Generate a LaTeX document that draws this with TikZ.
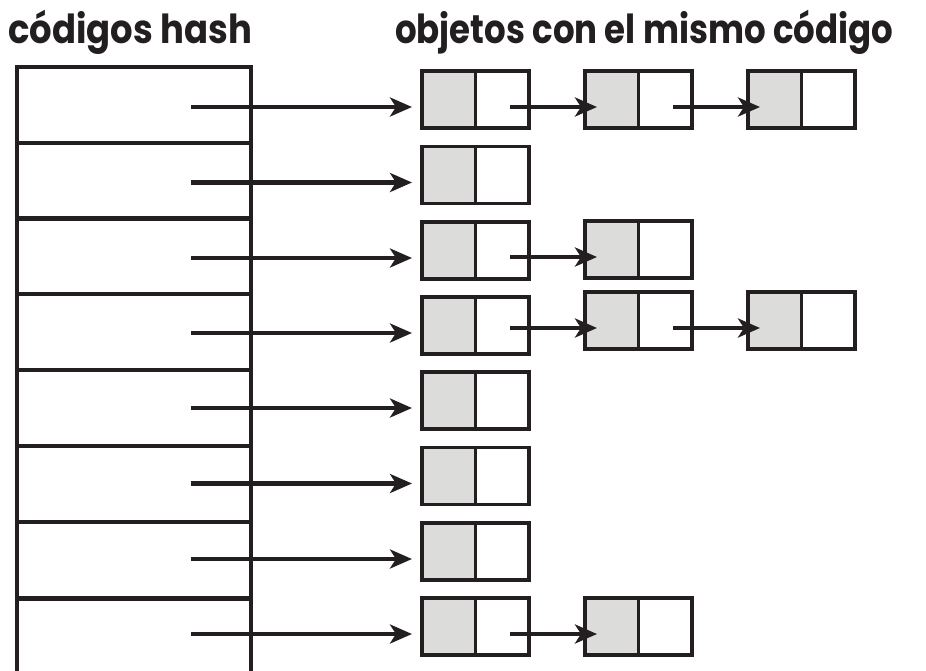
\documentclass[tikz,border=0pt]{standalone}
\usepackage{fontspec}
\newfontfamily\titlefont{Poppins}
\usetikzlibrary{arrows.meta,calc}
\definecolor{ink}{HTML}{231F20}
\definecolor{cellgray}{HTML}{DCDCDA}
\begin{document}
\begin{tikzpicture}[x=1pt,y=-1pt,
  tabcell/.style={draw=ink, line width=4pt, minimum width=234pt, minimum height=76pt, inner sep=0pt, anchor=north west},
  halfbox/.style={draw=ink, line width=3.5pt, minimum width=53.5pt, minimum height=57pt, inner sep=0pt, anchor=north west},
  keybox/.style={halfbox, fill=cellgray},
  linkbox/.style={halfbox, fill=white},
  arr/.style={draw=ink, line width=4.5pt, -{Stealth[length=22pt,width=19pt,inset=6pt]}},
  title/.style={font=\titlefont\bfseries\fontsize{40}{44}\selectfont, text=ink, inner sep=0pt, anchor=base west}
]
\useasboundingbox (0,0) rectangle (926,670);
% titles
\node[title] (t1) at (8,43) {\resizebox{244pt}{\height}{códigos hash}};
\node[title] (t2) at (395,43) {\resizebox{498pt}{\height}{objetos con el mismo código}};
% hash table
\foreach \r/\y in {1/65,2/140.5,3/216,4/292,5/368,6/444,7/520,8/597}{
  \node[tabcell] (c\r) at (15,\y) {};
}
% first boxes and arrows
\foreach \r/\t in {1/69,2/144.5,3/220,4/295,5/370,6/445.5,7/521,8/596}{
  \node[keybox] (b\r-1k) at (420,\t) {};
  \node[linkbox] (b\r-1l) at (473.5,\t) {};
  \coordinate (s\r) at (191,\t+38);
  \draw[arr] (s\r) -- ($(b\r-1k.west |- s\r)+(-8,0)$);
}
% chains
\foreach \r/\t/\n in {1/69/2,3/219/2,4/290/2,8/596/2,1/69/3,4/290/3}{
  \pgfmathsetmacro{\xx}{\n==2 ? 583 : 746}
  \node[keybox] (b\r-\n k) at (\xx,\t) {};
  \node[linkbox] (b\r-\n l) at (\xx+53.5,\t) {};
}
\foreach \r/\p/\n/\y in {1/1/2/107,1/2/3/107,3/1/2/257,4/1/2/328,4/2/3/328,8/1/2/634}{
  \coordinate (p\r-\n) at ($(b\r-\p l.center |- 0,\y)+(8,0)$);
  \draw[arr] (p\r-\n) -- ($(b\r-\n k.west |- 0,\y)+(14,0)$);
}
\end{tikzpicture}
\end{document}
